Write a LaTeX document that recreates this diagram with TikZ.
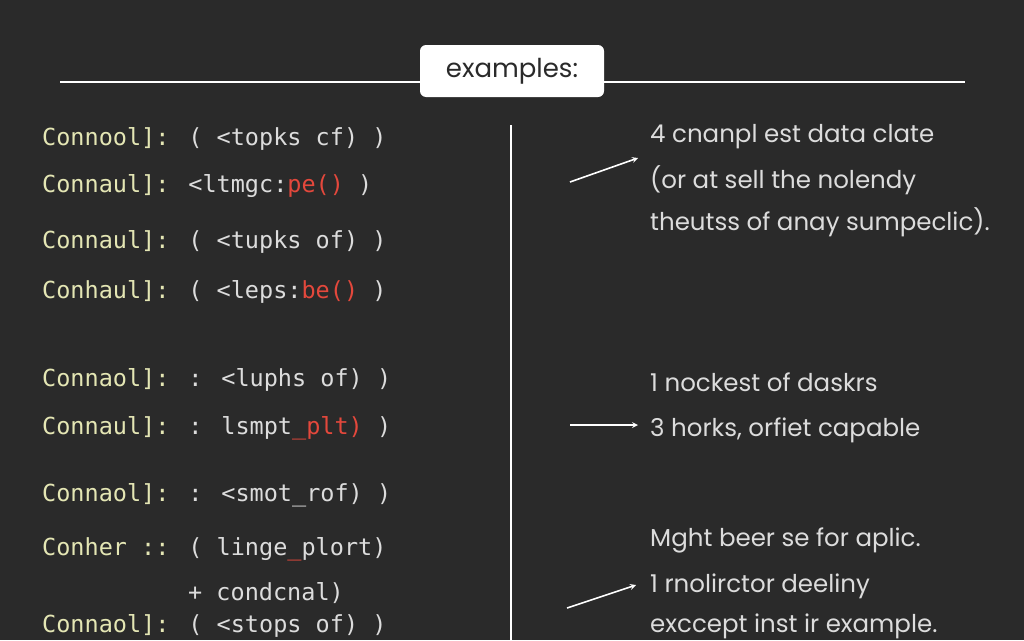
\documentclass[tikz,border=0pt]{standalone}
\usepackage{fontspec}
\setmainfont{DejaVu Sans}
\newfontfamily\lfont{DejaVu Sans Mono}
\newfontfamily\rfont{Poppins}
\definecolor{bg}{HTML}{2A2A2A}
\definecolor{yl}{HTML}{E4E6B4}
\definecolor{gr}{HTML}{DCDCDC}
\definecolor{rd}{HTML}{E4483C}
\begin{document}
\begin{tikzpicture}[x=1pt,y=-1pt,
  lt/.style={anchor=base west,inner sep=0pt,font=\lfont\fontsize{23.5}{27}\selectfont,text=gr},
  rt/.style={anchor=base west,inner sep=0pt,font=\rfont\fontsize{24.5}{28}\selectfont,text=gr},
  arr/.style={-stealth,draw=white,line width=1.6pt}]
\fill[bg] (0,0) rectangle (1024,640);
\useasboundingbox (0,0) rectangle (1024,640);
\coordinate (hl) at (60,82); \coordinate (hr) at (965,82);
\draw[white,line width=2pt] (hl) -- (hr);
\node[fill=white,rounded corners=6pt,minimum width=184pt,minimum height=52pt,font=\rfont\fontsize{26}{30}\selectfont,text=bg] (title) at (512,71) {examples:};
\coordinate (vt) at (511,125); \coordinate (vb) at (511,640);
\draw[white,line width=1.6pt] (vt) -- (vb);
\node[lt] (l1) at (42,145) {\textcolor{yl}{Connool]:} ( <topks cf) )};
\node[lt] (l2) at (42,192) {\textcolor{yl}{Connaul]:} <ltmgc:\textcolor{rd}{pe()} )};
\node[lt] (l3) at (42,248) {\textcolor{yl}{Connaul]:} ( <tupks of) )};
\node[lt] (l4) at (42,298) {\textcolor{yl}{Conhaul]:} ( <leps:\textcolor{rd}{be()} )};
\node[lt] (l5) at (42,386) {\textcolor{yl}{Connaol]:} : <luphs of) )};
\node[lt] (l6) at (42,434) {\textcolor{yl}{Connaul]:} : lsmpt\textcolor{rd}{\_plt)} )};
\node[lt] (l7) at (42,501) {\textcolor{yl}{Connaol]:} : <smot\_rof) )};
\node[lt] (l8) at (42,555) {\textcolor{yl}{Conher ::} ( linge\textcolor{rd}{\_}plort)};
\node[lt] (l9) at (188,600) {+ condcnal)};
\node[lt] (l10) at (42,632) {\textcolor{yl}{Connaol]:} ( <stops of) )};
\node[rt] (r1) at (650,142) {4 cnanpl est data clate};
\node[rt] (r2) at (650,188) {(or at sell the nolendy};
\node[rt] (r3) at (650,230) {theutss of anay sumpeclic).};
\node[rt] (r4) at (650,391) {1 nockest of daskrs};
\node[rt] (r5) at (650,436) {3 horks, orfiet capable};
\node[rt] (r6) at (650,546) {Mght beer se for aplic.};
\node[rt] (r7) at (650,592) {1 rnolirctor deeliny};
\node[rt] (r8) at (650,632) {exccept inst ir example.};
\coordinate (a1s) at (570,182); \coordinate (a1e) at (638,158);
\coordinate (a2s) at (570,425); \coordinate (a2e) at (638,425);
\coordinate (a3s) at (567,608); \coordinate (a3e) at (636,585);
\draw[arr] (a1s) -- (a1e);
\draw[arr] (a2s) -- (a2e);
\draw[arr] (a3s) -- (a3e);
\end{tikzpicture}
\end{document}
